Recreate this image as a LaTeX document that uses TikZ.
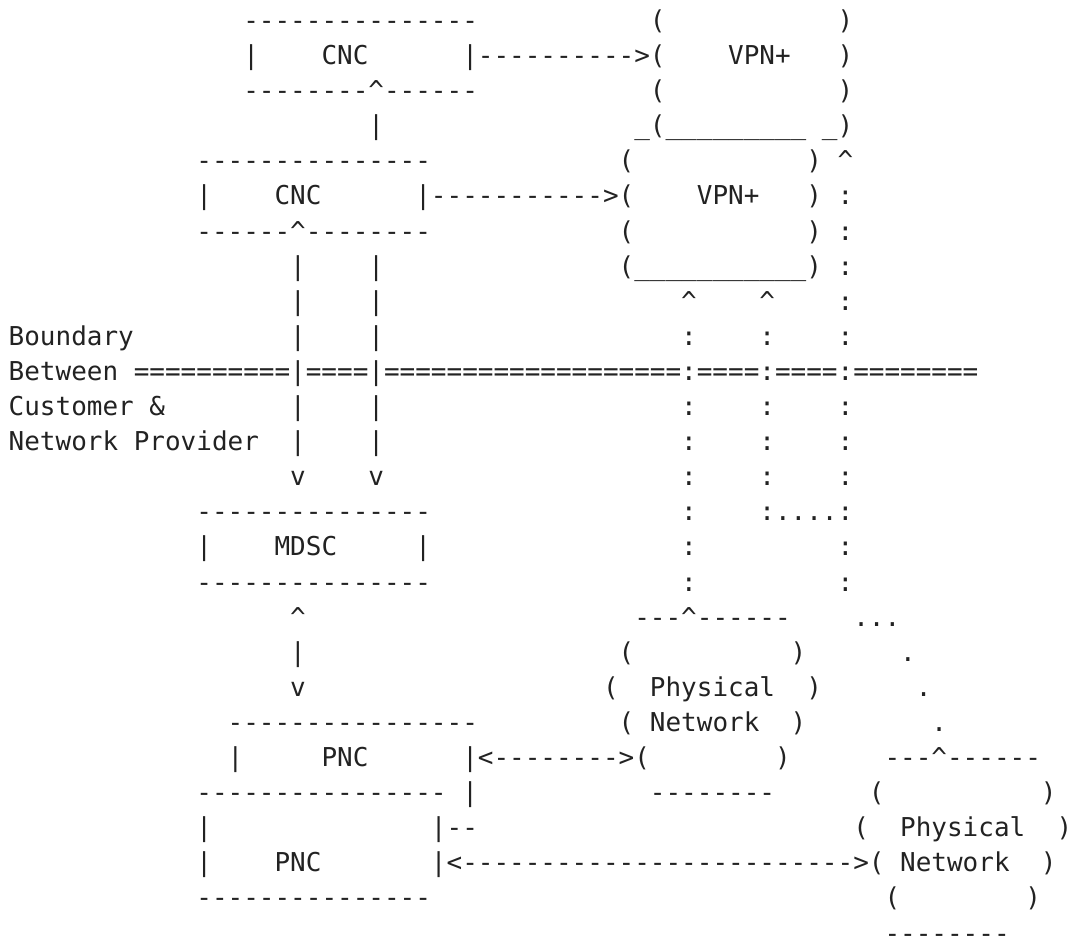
\documentclass[tikz,border=0pt]{standalone}
\usepackage{fontspec}
\setmonofont{DejaVu Sans Mono}
\definecolor{ink}{RGB}{34,34,34}
\tikzset{art/.style={anchor=base west,inner sep=0pt,outer sep=0pt,text=ink,text depth=0pt,
  font=\ttfamily\fontsize{25.98pt}{30pt}\selectfont}}
\newcommand\ch[3]{\node[art] (r#1c#2) at ({8.7+15.64*#2},{921.5-35.1*(#1-1)}) {#3};}
\newcommand\ca{\textasciicircum}
\begin{document}
\begin{tikzpicture}[x=1pt,y=1pt]
\useasboundingbox (0,0) rectangle (1072,951);
% row 1
\ch{1}{15}{---------------}\ch{1}{41}{(}\ch{1}{53}{)}
% row 2
\ch{2}{15}{|}\ch{2}{20}{CNC}\ch{2}{29}{|---------->(}\ch{2}{46}{VPN+}\ch{2}{53}{)}
% row 3
\ch{3}{15}{--------\ca------}\ch{3}{41}{(}\ch{3}{53}{)}
% row 4
\ch{4}{23}{|}\ch{4}{40}{\_(\_\_\_\_\_\_\_\_\_}\ch{4}{52}{\_)}
% row 5
\ch{5}{12}{---------------}\ch{5}{39}{(}\ch{5}{51}{)}\ch{5}{53}{\ca}
% row 6
\ch{6}{12}{|}\ch{6}{17}{CNC}\ch{6}{26}{|----------->(}\ch{6}{44}{VPN+}\ch{6}{51}{)}\ch{6}{53}{:}
% row 7
\ch{7}{12}{------\ca--------}\ch{7}{39}{(}\ch{7}{51}{)}\ch{7}{53}{:}
% row 8
\ch{8}{18}{|}\ch{8}{23}{|}\ch{8}{39}{(\_\_\_\_\_\_\_\_\_\_\_)}\ch{8}{53}{:}
% row 9
\ch{9}{18}{|}\ch{9}{23}{|}\ch{9}{43}{\ca}\ch{9}{48}{\ca}\ch{9}{53}{:}
% row 10
\ch{10}{0}{Boundary}\ch{10}{18}{|}\ch{10}{23}{|}\ch{10}{43}{:}\ch{10}{48}{:}\ch{10}{53}{:}
% row 11
\ch{11}{0}{Between}\ch{11}{8}{==========|====|===================:====:====:========}
% row 12
\ch{12}{0}{Customer \&}\ch{12}{18}{|}\ch{12}{23}{|}\ch{12}{43}{:}\ch{12}{48}{:}\ch{12}{53}{:}
% row 13
\ch{13}{0}{Network Provider}\ch{13}{18}{|}\ch{13}{23}{|}\ch{13}{43}{:}\ch{13}{48}{:}\ch{13}{53}{:}
% row 14
\ch{14}{18}{v}\ch{14}{23}{v}\ch{14}{43}{:}\ch{14}{48}{:}\ch{14}{53}{:}
% row 15
\ch{15}{12}{---------------}\ch{15}{43}{:}\ch{15}{48}{:....:}
% row 16
\ch{16}{12}{|}\ch{16}{17}{MDSC}\ch{16}{26}{|}\ch{16}{43}{:}\ch{16}{53}{:}
% row 17
\ch{17}{12}{---------------}\ch{17}{43}{:}\ch{17}{53}{:}
% row 18
\ch{18}{18}{\ca}\ch{18}{40}{---\ca------}\ch{18}{54}{...}
% row 19
\ch{19}{18}{|}\ch{19}{39}{(}\ch{19}{50}{)}\ch{19}{57}{.}
% row 20
\ch{20}{18}{v}\ch{20}{38}{(}\ch{20}{41}{Physical}\ch{20}{51}{)}\ch{20}{58}{.}
% row 21
\ch{21}{14}{----------------}\ch{21}{39}{(}\ch{21}{41}{Network}\ch{21}{50}{)}\ch{21}{59}{.}
% row 22
\ch{22}{14}{|}\ch{22}{20}{PNC}\ch{22}{29}{|<-------->(}\ch{22}{49}{)}\ch{22}{56}{---\ca------}
% row 23
\ch{23}{12}{----------------}\ch{23}{29}{|}\ch{23}{41}{--------}\ch{23}{55}{(}\ch{23}{66}{)}
% row 24
\ch{24}{12}{|}\ch{24}{27}{|--}\ch{24}{54}{(}\ch{24}{57}{Physical}\ch{24}{67}{)}
% row 25
\ch{25}{12}{|}\ch{25}{17}{PNC}\ch{25}{27}{|<------------------------->(}\ch{25}{57}{Network}\ch{25}{66}{)}
% row 26
\ch{26}{12}{---------------}\ch{26}{56}{(}\ch{26}{65}{)}
% row 27
\ch{27}{56}{--------}
\end{tikzpicture}
\end{document}
